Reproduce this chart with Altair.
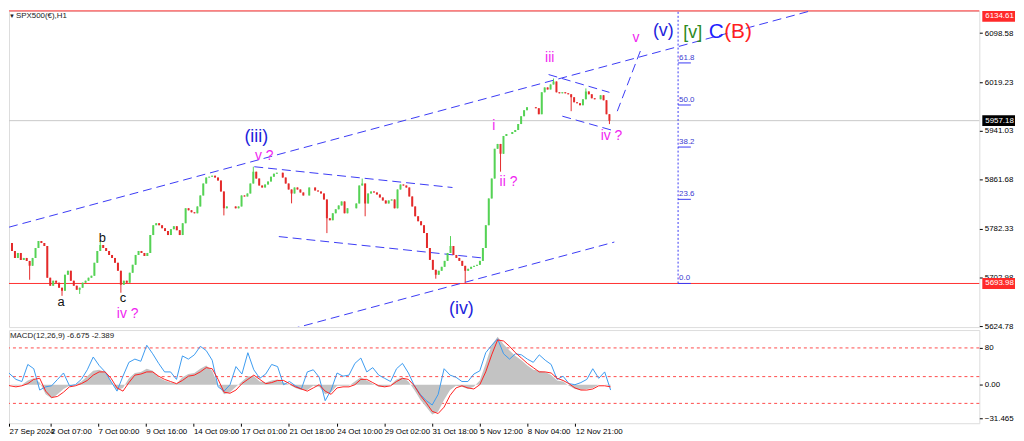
import altair as alt
import pandas as pd

# ---------------- data ----------------
# hourly closes (one value per drawn bar)
closes = [
    5759.3, 5746.5, 5735.3, 5743.3, 5732.1, 5735.3, 5730.5, 5722.5, 5735.3, 5751.3,
    5762.6, 5759.3, 5754.5, 5703.3, 5690.4, 5698.5, 5695.3, 5687.2, 5682.4, 5708.1,
    5714.5, 5698.5, 5690.4, 5684.0, 5687.2, 5695.3, 5698.5, 5703.3, 5706.5, 5727.3,
    5746.5, 5756.1, 5751.3, 5746.5, 5740.1, 5735.3, 5727.3, 5714.5, 5692.1, 5698.5,
    5695.3, 5711.3, 5724.1, 5740.1, 5746.5, 5743.3, 5738.5, 5743.3, 5772.2, 5788.2,
    5791.4, 5788.2, 5783.4, 5778.6, 5772.2, 5781.8, 5786.6, 5780.2, 5772.2, 5791.4,
    5815.4, 5812.2, 5809.0, 5807.4, 5818.6, 5836.3, 5855.5, 5865.1, 5866.7, 5868.3,
    5865.1, 5860.3, 5842.7, 5815.4, 5818.6, 5818.6, 5818.6, 5815.4, 5818.6, 5836.3,
    5834.7, 5839.5, 5855.5, 5874.7, 5863.5, 5852.3, 5849.1, 5853.9, 5858.7, 5866.7,
    5871.5, 5873.1, 5873.1, 5865.1, 5855.5, 5845.9, 5839.5, 5849.1, 5845.9, 5841.1,
    5836.3, 5836.3, 5849.1, 5849.1, 5844.3, 5842.7, 5839.5, 5829.8, 5799.4, 5796.2,
    5807.4, 5813.8, 5820.2, 5826.6, 5807.4, 5815.4, 5815.4, 5815.4, 5823.4, 5852.3,
    5855.5, 5823.4, 5839.5, 5842.7, 5841.1, 5837.9, 5833.1, 5828.2, 5823.4, 5828.2,
    5829.8, 5815.4, 5845.9, 5853.9, 5852.3, 5849.1, 5834.7, 5818.6, 5802.6, 5794.6,
    5788.2, 5775.4, 5751.3, 5732.1, 5716.1, 5708.1, 5714.5, 5720.9, 5730.5, 5743.3,
    5754.5, 5740.1, 5735.3, 5730.5, 5722.5, 5714.5, 5717.7, 5720.9, 5722.5, 5724.1,
    5730.5, 5751.3, 5788.2, 5831.5, 5863.5, 5911.6, 5919.6, 5903.6, 5932.4, 5935.6,
    5935.6, 5938.8, 5942.0, 5951.6, 5964.4, 5974.1, 5978.9, 5978.9, 5978.9, 5977.3,
    5967.6, 6002.9, 6010.9, 6007.7, 6015.7, 6020.5, 6002.9, 6001.3, 6002.9, 6001.3,
    5999.7, 5994.9, 5986.9, 5985.3, 5982.1, 5991.7, 6004.5, 5999.7, 5993.3, 5991.7,
    5991.7, 5998.1, 5990.1, 5967.6, 5957.2,
]
# long wicks (bar number, extreme price)
spike_bar = [7, 18, 24, 31, 38, 73, 83, 96, 108, 120, 121, 145, 150, 155, 167, 185, 191, 196, 204]
spike_price = [5700.0, 5674.0, 5677.0, 5762.0, 5679.0, 5804.0, 5882.7, 5823.5, 5775.4, 5863.5,
               5802.6, 5701.7, 5770.6, 5695.3, 5874.7, 6025.3, 5972.5, 6009.3, 5951.6]

last_price = 5957.18
level_low = 5693.98
level_high = 6134.61

price_ticks = [6098.58, 6059.48, 6019.23, 5980.13, 5941.03, 5900.78, 5861.68,
               5821.43, 5782.33, 5743.23, 5702.98, 5663.88, 5624.78]

time_labels = ["27 Sep 2024", "2 Oct 07:00", "7 Oct 00:00", "9 Oct 16:00", "14 Oct 09:00",
               "17 Oct 01:00", "21 Oct 18:00", "24 Oct 10:00", "29 Oct 02:00", "31 Oct 18:00",
               "5 Nov 12:00", "8 Nov 04:00", "12 Nov 21:00"]
time_label_bar = [1.7, 15.6, 31.6, 47.7, 63.7, 79.8, 95.8, 111.9, 127.9, 143.9, 160.0, 176.0, 192.1]

# MACD panel, one value every second bar
macd_fast = [16, 10, 5, 3, 19, 15, -5, -2, -1, 5,
             11, -1, 0, 5, 14, 26, 18, 12, 3, -6,
             8, 21, 24, 22, 37, 29, 20, 12, 12, 5,
             27, 24, 28, 36, 32, 23, -2, -6, 0, 17,
             10, 30, 14, 6, 10, 19, 17, 0, 3, -1,
             -4, 12, 14, 7, -15, -5, 11, 8, 9, 20,
             25, 12, 16, 9, 6, 3, 15, 20, 11, -1,
             -9, -15, -19, -9, 15, 9, 7, 3, 3, 10,
             13, 30, 37, 43, 29, 24, 29, 28, 24, 21,
             28, 23, 19, 5, 8, 1, 0, 2, 5, 15,
             6, 12, -5]
macd_hist = [1, 0, -1, 0, 4, 6, 2, -9, -13, -9,
             -4, -1, 0, 3, 8, 13, 14, 12, 3, -5,
             -3, 6, 11, 12, 15, 13, 7, 4, 2, 1,
             7, 10, 11, 15, 18, 13, 0, -9, -7, -2,
             3, 8, 8, 3, 2, 4, 5, 2, 0, -3,
             -5, -5, -1, -2, -9, -7, -1, -1, -1, 3,
             7, 4, 1, -2, -2, 0, 5, 7, 3, -5,
             -14, -21, -28, -25, -14, -5, -1, -2, -4, -2,
             4, 20, 37, 45, 38, 32, 27, 23, 18, 14,
             13, 12, 9, 4, 3, -1, -4, -5, -4, -3,
             0, 0, -1]
macd_signal = [1, -1, -2, -1, 1, 5, 6, -6, -12, -11,
               -7, -2, -1, 1, 4, 9, 12, 12, 6, -3,
               -6, 2, 9, 10, 12, 12, 8, 5, 3, 1,
               4, 8, 9, 12, 16, 15, 5, -7, -8, -5,
               1, 5, 9, 5, 1, 2, 4, 4, 1, -2,
               -4, -6, -3, 0, -6, -9, -3, -2, -2, 0,
               5, 5, 2, -1, -2, -1, 3, 6, 5, -1,
               -10, -17, -25, -27, -21, -10, -3, -1, -3, -4,
               0, 12, 28, 42, 41, 36, 30, 25, 20, 16,
               12, 12, 11, 6, 4, 1, -3, -5, -5, -4,
               -1, -1, -2]
macd_levels = [34.5, 7.6, -17.5]
macd_level_names = ["80", "50", "20"]
macd_top_value = 47.549
macd_bottom_value = -31.465

# drawn trend lines: start bar/price, end bar/price
line_names = ["channel_top", "channel_bottom", "tri_top", "tri_bottom", "iii_iv_top", "iii_iv_bottom", "to_v"]
line_bar0 = [0.0, 95.67, 83.33, 91.67, 183.33, 188.0, 206.67]
line_p0 = [5785.0, 5619.9, 5882.7, 5769.8, 6031.7, 5964.4, 5972.5]
line_bar1 = [273.3, 205.67, 150.67, 160.67, 204.0, 204.67, 214.67]
line_p1 = [6135.9, 5760.9, 5849.1, 5735.3, 6002.9, 5942.0, 6071.8]

# Fibonacci tool
fib_bar = 227.33
fib_bar_end = 231.67
fib_names = ["0.0", "23.6", "38.2", "50.0", "61.8"]
fib_price = [5694.0, 5830.0, 5914.5, 5982.5, 6050.5]

# wave labels
wave_text = ["(iii)", "v ?", "b", "a", "c", "iv ?", "(iv)", "ii ?", "i", "iii", "iv ?", "v", "(v)", "[v]", "C", "(B)"]
wave_bar = [84.0, 86.7, 31.7, 17.7, 38.7, 40.3, 153.7, 169.7, 164.7, 183.7, 204.7, 213.0, 222.3, 232.3, 240.3, 247.7]
wave_price = [5930.8, 5900.4, 5767.4, 5663.2, 5670.0, 5645.0, 5652.0, 5858.7, 5948.4, 6059.0, 5932.4, 6091.0, 6102.2, 6099.0, 6100.6, 6100.6]
wave_degree = ["minor", "minute", "sub", "sub", "sub", "minute", "minor", "minute", "minute", "minute",
               "minute", "minute", "minor", "intermediate", "primaryC", "primaryB"]

# ---------------- build tables ----------------
rows = []
for k, c in enumerate(closes):
    o = closes[k - 1] if k > 0 else c
    rows.append({"bar": k, "open": o, "close": c, "lo": min(o, c), "hi": max(o, c),
                 "dir": "up" if c >= o else "down"})
for b, p in zip(spike_bar, spike_price):
    rows[b]["lo"] = min(rows[b]["lo"], p)
    rows[b]["hi"] = max(rows[b]["hi"], p)
candles = pd.DataFrame(rows)

lines = pd.DataFrame(
    [{"name": n, "bar": b0, "price": p0} for n, b0, p0 in zip(line_names, line_bar0, line_p0)]
    + [{"name": n, "bar": b1, "price": p1} for n, b1, p1 in zip(line_names, line_bar1, line_p1)]
)
fib = pd.DataFrame({"name": fib_names, "price": fib_price, "b0": fib_bar, "b1": fib_bar_end})
fib_v = pd.DataFrame({"bar": [fib_bar], "p0": [fib_price[0]], "p1": [level_high]})
waves = pd.DataFrame({"text": wave_text, "bar": wave_bar, "price": wave_price, "deg": wave_degree})

half = 8.8
boxes = pd.DataFrame({"price": [level_high, last_price, level_low]})
boxes["top"] = [level_high, last_price + half, level_low + half]
boxes["bot"] = [level_high - 2 * half, last_price - half, level_low - half]
boxes["mid"] = (boxes["top"] + boxes["bot"]) / 2
boxes["label"] = boxes["price"].map(lambda v: f"{v:.2f}")
red_boxes = boxes.iloc[[0, 2]]
black_boxes = boxes.iloc[[1]]

macd = pd.DataFrame({"bar": [2 * k for k in range(len(macd_fast))],
                     "fast": macd_fast, "hist": macd_hist, "signal": macd_signal})
macd_lv = pd.DataFrame({"v": macd_levels, "name": macd_level_names})

# ---------------- scales ----------------
W = 979
xs = alt.Scale(domain=[1.667, 328.0], nice=False, zero=False)
ys = alt.Scale(domain=[5623.5, 6134.61], nice=False, zero=False)
ms = alt.Scale(domain=[-36.1, 51.27], nice=False, zero=False)

FONT = "Liberation Sans"
price_axis = alt.Axis(orient="right", values=price_ticks, format=".2f", grid=False, domain=False,
                      tickSize=3, tickColor="#000", labelFontSize=8, labelFont=FONT, labelColor="#000",
                      labelPadding=2, labelOverlap=False, title=None)

X = alt.X("bar:Q", scale=xs, axis=None)

last_line = alt.Chart(pd.DataFrame({"price": [last_price]})).mark_rule(strokeWidth=1, color="#C8C8C8").encode(
    y=alt.Y("price:Q", scale=ys, axis=price_axis)
)
level_lines = alt.Chart(pd.DataFrame({"price": [level_low, level_high]})).mark_rule(
    strokeWidth=1, color="#FF3030").encode(y=alt.Y("price:Q", scale=ys))

trend = alt.Chart(lines).mark_line(strokeDash=[9, 5], strokeWidth=1, color="#3A3AF5", clip=True).encode(
    x=X, y=alt.Y("price:Q", scale=ys), detail="name:N"
)

fib_line = alt.Chart(fib_v).mark_rule(strokeDash=[2, 2], color="#3A3AF5", strokeWidth=1).encode(
    x=X, y=alt.Y("p0:Q", scale=ys), y2="p1:Q"
)
fib_ticks = alt.Chart(fib).mark_rule(color="#3A3AF5", strokeWidth=1).encode(
    x=alt.X("b0:Q", scale=xs, axis=None), x2="b1:Q", y=alt.Y("price:Q", scale=ys)
)
fib_text = alt.Chart(fib).mark_text(align="left", baseline="bottom", dx=1, dy=-1, fontSize=8,
                                    font=FONT, color="#3A3AD0").encode(
    x=alt.X("b0:Q", scale=xs, axis=None), y=alt.Y("price:Q", scale=ys), text="name:N"
)

up = candles[candles["dir"] == "up"]
down = candles[candles["dir"] == "down"]


def candle_layers(df, color):
    w = alt.Chart(df).mark_rule(strokeWidth=1, clip=True, color=color).encode(
        x=X, y=alt.Y("lo:Q", scale=ys), y2="hi:Q")
    b = alt.Chart(df).mark_bar(size=2, clip=True, color=color).encode(
        x=X, y=alt.Y("open:Q", scale=ys), y2="close:Q")
    return [w, b]


wave_style = {
    "minor": ("#1E1EDC", 18),
    "minute": ("#F01EF0", 14),
    "sub": ("#111111", 13),
    "intermediate": ("#2E8B22", 18),
    "primaryC": ("#1E1EFF", 21),
    "primaryB": ("#FF1E1E", 21),
}
wave_layers = []
for deg, (colr, fs) in wave_style.items():
    wave_layers.append(
        alt.Chart(waves[waves["deg"] == deg]).mark_text(
            font=FONT, baseline="middle", align="center", color=colr, fontSize=fs).encode(
            x=X, y=alt.Y("price:Q", scale=ys), text="text:N")
    )

title = alt.Chart(pd.DataFrame({"t": ["SPX500(€),H1"]})).mark_text(
    align="left", baseline="top", fontSize=8, font=FONT, color="#222").encode(
    x=alt.value(7), y=alt.value(1), text="t:N")
tri = alt.Chart(pd.DataFrame({"t": ["▼"]})).mark_text(
    align="center", baseline="top", fontSize=6, color="#222").encode(
    x=alt.value(3), y=alt.value(2), text="t:N")


def box_layers(df, fill):
    r = alt.Chart(df).mark_rect(color=fill).encode(
        x=alt.value(982), x2=alt.value(1015), y=alt.Y("top:Q", scale=ys), y2="bot:Q")
    t = alt.Chart(df).mark_text(align="left", baseline="middle", fontSize=8, font=FONT, color="#FFFFFF").encode(
        x=alt.value(985), y=alt.Y("mid:Q", scale=ys), text="label:N")
    return [r, t]


main = alt.layer(
    last_line, level_lines, trend, fib_line, fib_ticks, fib_text,
    *candle_layers(up, "#55D255"), *candle_layers(down, "#E42A2A"),
    *wave_layers, title, tri,
    *box_layers(red_boxes, "#FF2A2A"), *box_layers(black_boxes, "#000000"),
).properties(width=W, height=319)

# ---------------- MACD panel ----------------
labels_js = "[" + ",".join(f"'{s}'" for s in time_labels) + "]"
x_axis = alt.Axis(values=time_label_bar, labelExpr=f"{labels_js}[round((datum.value + 0.5) / 16.05)]",
                  grid=False, domain=False, tickSize=3, tickColor="#000", labelAlign="left",
                  labelFontSize=8, labelFont=FONT, labelColor="#000", labelPadding=1,
                  labelOverlap=False, title=None)
macd_vals = [macd_top_value] + macd_levels[:2] + [0] + macd_levels[2:] + [macd_bottom_value]
expr = "datum.value == 0 ? '0.00' : "
for v, n in zip(macd_levels, macd_level_names):
    expr += f"abs(datum.value - ({v})) < 0.01 ? '{n}' : "
expr += "format(datum.value, '.3f')"
m_axis = alt.Axis(orient="right", values=macd_vals, labelExpr=expr, grid=False, domain=False,
                  tickSize=3, tickColor="#000", labelFontSize=8, labelFont=FONT, labelColor="#000",
                  labelPadding=2, labelOverlap=False, title=None)

MX = alt.X("bar:Q", scale=xs, axis=x_axis)
hist = alt.Chart(macd).mark_area(color="#C3C3C3", clip=True).encode(
    x=MX, y=alt.Y("hist:Q", scale=ms, axis=m_axis), y2=alt.datum(0)
)
lv = alt.Chart(macd_lv).mark_rule(strokeDash=[3, 3], color="#FF4A4A", strokeWidth=1).encode(
    y=alt.Y("v:Q", scale=ms)
)
fast = alt.Chart(macd).mark_line(color="#3C9BF0", strokeWidth=1, clip=True).encode(
    x=MX, y=alt.Y("fast:Q", scale=ms)
)
sig = alt.Chart(macd).mark_line(color="#FF2020", strokeWidth=1, clip=True).encode(
    x=MX, y=alt.Y("signal:Q", scale=ms)
)
mtitle = alt.Chart(pd.DataFrame({"t": ["MACD(12,26,9) -6.675 -2.389"]})).mark_text(
    align="left", baseline="middle", fontSize=8, font=FONT, color="#222").encode(
    x=alt.value(1), y=alt.value(6), text="t:N")

macd_chart = alt.layer(lv, hist, fast, sig, mtitle).properties(width=W, height=94)

chart = alt.vconcat(main, macd_chart, spacing=3, bounds="flush").properties(
    padding={"left": 0, "top": 0, "right": 0, "bottom": 0}
).configure_view(stroke="#555555", strokeWidth=1).configure(background="#FFFFFF")

chart.save("out.html", embed_options={"renderer": "svg", "actions": False})
